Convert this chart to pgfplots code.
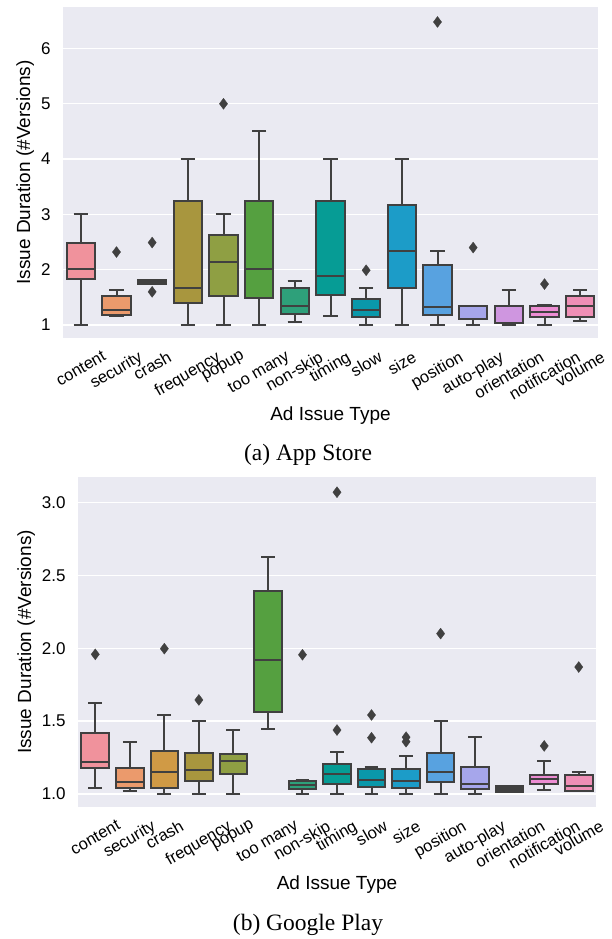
\documentclass[border=0pt]{standalone}
\usepackage{pgfplots}
\pgfplotsset{compat=1.18}
\usepgfplotslibrary{statistics}
\usepackage{graphicx}
\usepackage{fontspec}
\setmainfont{Liberation Sans}
\newfontfamily\capfont{Liberation Serif}
\definecolor{bg}{HTML}{EAEAF2}
\definecolor{ln}{HTML}{404040}
\definecolor{c1}{HTML}{F0929C}
\definecolor{c2}{HTML}{EB9A6C}
\definecolor{c3}{HTML}{D09A45}
\definecolor{c4}{HTML}{A8963E}
\definecolor{c5}{HTML}{8F9F43}
\definecolor{c6}{HTML}{55A040}
\definecolor{c7}{HTML}{2EA07A}
\definecolor{c8}{HTML}{069C95}
\definecolor{c9}{HTML}{0A98AA}
\definecolor{c10}{HTML}{1C9CC8}
\definecolor{c11}{HTML}{58A2E0}
\definecolor{c12}{HTML}{A6A6EB}
\definecolor{c13}{HTML}{CF96E0}
\definecolor{c14}{HTML}{ED8DD3}
\definecolor{c15}{HTML}{EF8FB6}
\newcommand{\rl}[1]{\rotatebox{30}{#1}}
\newcommand{\bx}[9]{%
\addplot[boxplot prepared={draw position=#1, lower whisker=#3, lower quartile=#4, median=#5, upper quartile=#6, upper whisker=#7},
 fill=#2, draw=ln, line width=2pt, mark=diamond*, mark size=5.5pt,
 mark options={fill=ln, draw=ln, solid, line width=0.3pt}] coordinates {#8};}
\pgfplotsset{
  sbbox/.style={
    scale only axis,
    axis background/.style={fill=bg},
    axis line style={draw=none},
    ymajorgrids, xmajorgrids=false,
    major grid style={white, line width=1.3pt},
    xmin=-0.5, xmax=14.5,
    xtick={0,...,14},
    xticklabels={\rl{content},\rl{security},\rl{crash},\rl{frequency},\rl{popup},\rl{too many},\rl{non-skip},\rl{timing},\rl{slow},\rl{size},\rl{position},\rl{auto-play},\rl{orientation},\rl{notification},\rl{volume}},
    major tick length=0pt,
    tick style={draw=none},
    xticklabel style={anchor=north, inner sep=0pt, font=\fontsize{16.5}{18}\selectfont, yshift=-12pt},
    yticklabel style={font=\fontsize{17}{20}\selectfont, xshift=-9pt},
    xlabel={Ad Issue Type},
    ylabel={Issue Duration (\#Versions)},
    xlabel style={font=\fontsize{19}{22}\selectfont, at={(axis description cs:0.5,0)}, anchor=base, yshift=-82pt},
    ylabel style={font=\fontsize{19}{22}\selectfont},
    /pgf/number format/assume math mode=true,
    boxplot/draw direction=y,
    boxplot/box extend=0.8,
    boxplot/whisker extend=0.4,
    clip=false,
  }
}
\begin{document}
\begin{tikzpicture}
\useasboundingbox (0,0) rectangle (612pt,-939pt);
\begin{axis}[sbbox, at={(63pt,-7pt)}, anchor=north west, width=535pt, height=331pt,
  ymin=0.765, ymax=6.75, ytick={1,2,3,4,5,6}]
\bx{0}{c1}{1}{1.83}{2.01}{2.49}{3.0}{}{}
\bx{1}{c2}{1.17}{1.18}{1.27}{1.53}{1.63}{(1,2.32)}{}
\bx{2}{c3}{1.74}{1.74}{1.77}{1.81}{1.81}{(2,2.49) (2,1.60)}{}
\bx{3}{c4}{1}{1.39}{1.67}{3.25}{4.0}{}{}
\bx{4}{c5}{1}{1.53}{2.14}{2.63}{3.0}{(4,5.0)}{}
\bx{5}{c6}{1}{1.49}{2.01}{3.25}{4.5}{}{}
\bx{6}{c7}{1.06}{1.20}{1.34}{1.67}{1.80}{}{}
\bx{7}{c8}{1.17}{1.54}{1.89}{3.25}{4.0}{}{}
\bx{8}{c9}{1}{1.15}{1.28}{1.47}{1.67}{(8,1.99)}{}
\bx{9}{c10}{1}{1.67}{2.34}{3.17}{4.0}{}{}
\bx{10}{c11}{1}{1.18}{1.33}{2.08}{2.34}{(10,6.48)}{}
\bx{11}{c12}{1}{1.10}{1.10}{1.34}{1.34}{(11,2.40)}{}
\bx{12}{c13}{1}{1.03}{1.04}{1.34}{1.63}{}{}
\bx{13}{c14}{1}{1.14}{1.235}{1.34}{1.37}{(13,1.74)}{}
\bx{14}{c15}{1.07}{1.14}{1.34}{1.53}{1.63}{}{}
\end{axis}
\node[font=\capfont\fontsize{23.5}{26}\selectfont] at (308pt,-455pt) {(a) App Store};
\begin{axis}[sbbox, at={(78pt,-477pt)}, anchor=north west, width=518pt, height=330pt,
  ymin=0.911, ymax=3.174, ytick={1.0,1.5,2.0,2.5,3.0},
  yticklabel style={/pgf/number format/.cd, fixed, fixed zerofill, precision=1}]
\bx{0}{c1}{1.043}{1.18}{1.217}{1.42}{1.626}{(0,1.958)}{}
\bx{1}{c2}{1.023}{1.041}{1.08}{1.178}{1.355}{}{}
\bx{2}{c3}{1.0}{1.043}{1.151}{1.297}{1.54}{(2,1.997)}{}
\bx{3}{c4}{1.0}{1.091}{1.165}{1.283}{1.50}{(3,1.645)}{}
\bx{4}{c5}{1.0}{1.135}{1.226}{1.272}{1.441}{}{}
\bx{5}{c6}{1.444}{1.565}{1.92}{2.39}{2.625}{}{}
\bx{6}{c7}{1.0}{1.032}{1.06}{1.089}{1.096}{(6,1.955)}{}
\bx{7}{c8}{1.0}{1.071}{1.139}{1.206}{1.288}{(7,1.439) (7,3.07)}{}
\bx{8}{c9}{1.0}{1.048}{1.098}{1.169}{1.185}{(8,1.386) (8,1.542)}{}
\bx{9}{c10}{1.0}{1.043}{1.087}{1.169}{1.263}{(9,1.359) (9,1.39)}{}
\bx{10}{c11}{1.0}{1.082}{1.153}{1.283}{1.50}{(10,2.10)}{}
\bx{11}{c12}{1.0}{1.037}{1.071}{1.183}{1.389}{}{}
\bx{12}{ln}{1.016}{1.016}{1.03}{1.053}{1.057}{}{}
\bx{13}{c14}{1.025}{1.071}{1.103}{1.133}{1.224}{(13,1.33)}{}
\bx{14}{c15}{1.021}{1.021}{1.057}{1.13}{1.153}{(14,1.871)}{}
\end{axis}
\node[font=\capfont\fontsize{23.5}{26}\selectfont] at (308pt,-925pt) {(b) Google Play};
\end{tikzpicture}
\end{document}
